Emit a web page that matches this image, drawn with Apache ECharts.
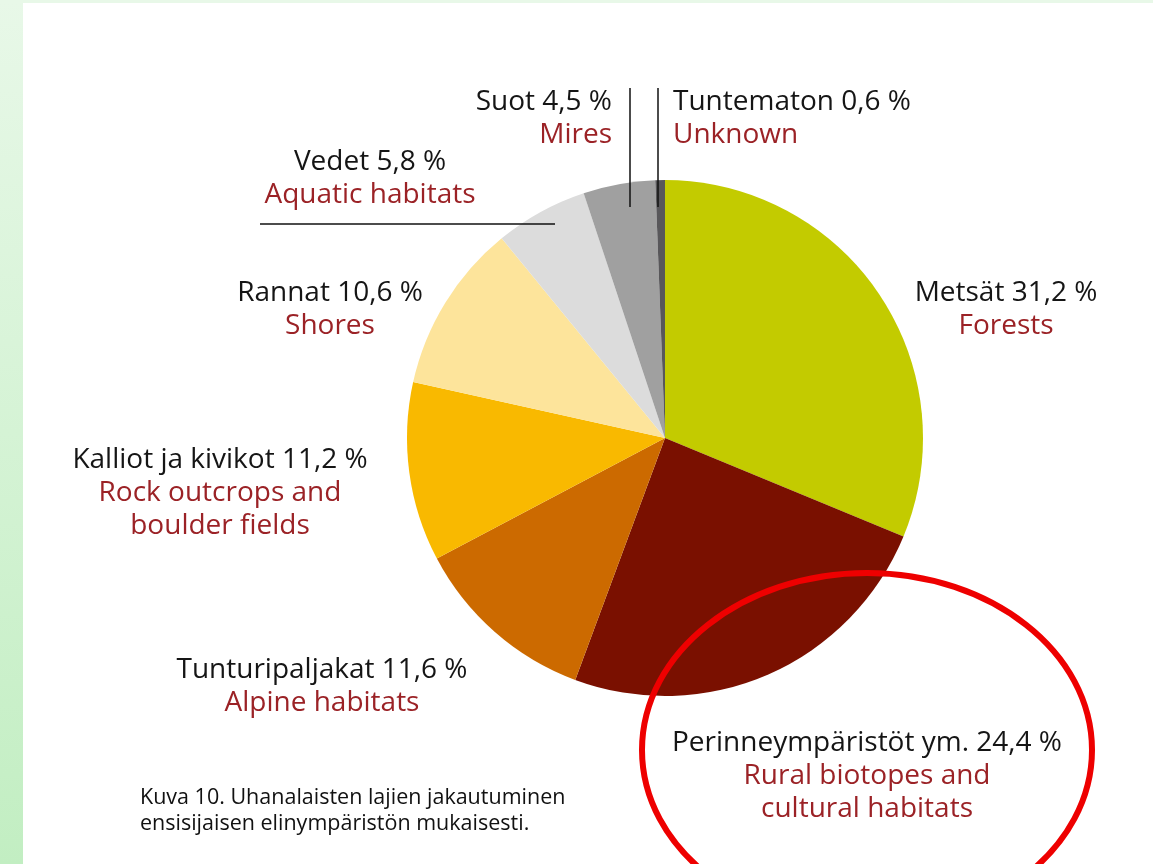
<!DOCTYPE html>
<html>
<head>
<meta charset="utf-8">
<script src="https://cdn.jsdelivr.net/npm/echarts@6/dist/echarts.min.js"></script>
<style>
  html, body { margin: 0; padding: 0; background: #fff; }
  #chart { width: 1153px; height: 864px; }
</style>
</head>
<body>
<div id="chart"></div>
<script>
// data
var namesFi = ["Metsät", "Perinneympäristöt ym.", "Tunturipaljakat", "Kalliot ja kivikot", "Rannat", "Vedet", "Suot", "Tuntematon"];
var namesEn = ["Forests", "Rural biotopes and\ncultural habitats", "Alpine habitats", "Rock outcrops and\nboulder fields", "Shores", "Aquatic habitats", "Mires", "Unknown"];
var shares = [31.2, 24.4, 11.6, 11.2, 10.6, 5.8, 4.5, 0.6];
var colors = ["#c3cb00", "#7a1000", "#cc6a00", "#f9b900", "#fde49b", "#dcdcdc", "#a0a0a0", "#58575a"];

// label anchor: x, top y, align
var labelPos = [
  [1006, 277, "center"],
  [867, 727, "center"],
  [322, 654, "center"],
  [220, 444, "center"],
  [330, 277, "center"],
  [370, 146, "center"],
  [612, 86, "right"],
  [673, 86, "left"]
];

var FONT = "'Open Sans', sans-serif";

var myChart = echarts.init(document.getElementById("chart"));

var pieData = shares.map(function (v, i) {
  return { name: namesFi[i], value: v, itemStyle: { color: colors[i] } };
});

myChart.setOption({
  animation: false,
  graphic: [
    // green page edges
    {
      type: "rect", left: 0, top: 0, z: -10,
      shape: { width: 23, height: 864 },
      style: {
        fill: new echarts.graphic.LinearGradient(0, 0, 0, 1, [
          { offset: 0, color: "#e8f8e8" },
          { offset: 1, color: "#c2eec2" }
        ])
      }
    },
    {
      type: "rect", left: 0, top: 0, z: -10,
      shape: { width: 1153, height: 3 },
      style: { fill: "#e8f8e8" }
    },
    // leader lines
    { type: "line", shape: { x1: 260, y1: 224, x2: 555, y2: 224 }, style: { stroke: "#111", lineWidth: 1.5 }, z: 10 },
    { type: "line", shape: { x1: 630, y1: 88, x2: 630, y2: 207 }, style: { stroke: "#111", lineWidth: 1.5 }, z: 10 },
    { type: "line", shape: { x1: 658, y1: 88, x2: 658, y2: 207 }, style: { stroke: "#111", lineWidth: 1.5 }, z: 10 },
    // caption
    {
      type: "text", left: 140, top: 785,
      style: {
        text: "Kuva 10. Uhanalaisten lajien jakautuminen\nensisijaisen elinympäristön mukaisesti.",
        font: "21.5px " + FONT, fill: "#111", lineHeight: 26
      }
    },
    // red highlight ring
    {
      type: "ellipse", z: 20,
      shape: { cx: 867, cy: 750, rx: 225, ry: 177 },
      style: { fill: null, stroke: "#ee0000", lineWidth: 6 }
    }
  ],
  series: [
    {
      type: "pie",
      center: [665, 438],
      radius: 258,
      startAngle: 90,
      clockwise: true,
      avoidLabelOverlap: false,
      data: pieData,
      label: {
        show: true,
        formatter: function (p) {
          var en = namesEn[p.dataIndex].split("\n").map(function (s) {
            return "{b|" + s + "}";
          }).join("\n");
          return "{a|" + p.name + " " + String(p.value).replace(".", ",") + " %}\n" + en;
        },
        rich: {
          a: { color: "#151515", fontSize: 28, fontWeight: 500, lineHeight: 33, fontFamily: FONT },
          b: { color: "#9b2226", fontSize: 28, fontWeight: 500, lineHeight: 33, fontFamily: FONT }
        }
      },
      labelLine: { show: false },
      labelLayout: function (params) {
        var p = labelPos[params.dataIndex];
        return { x: p[0], y: p[1], align: p[2], verticalAlign: "top" };
      },
      emphasis: { disabled: true }
    }
  ]
});
</script>
</body>
</html>
